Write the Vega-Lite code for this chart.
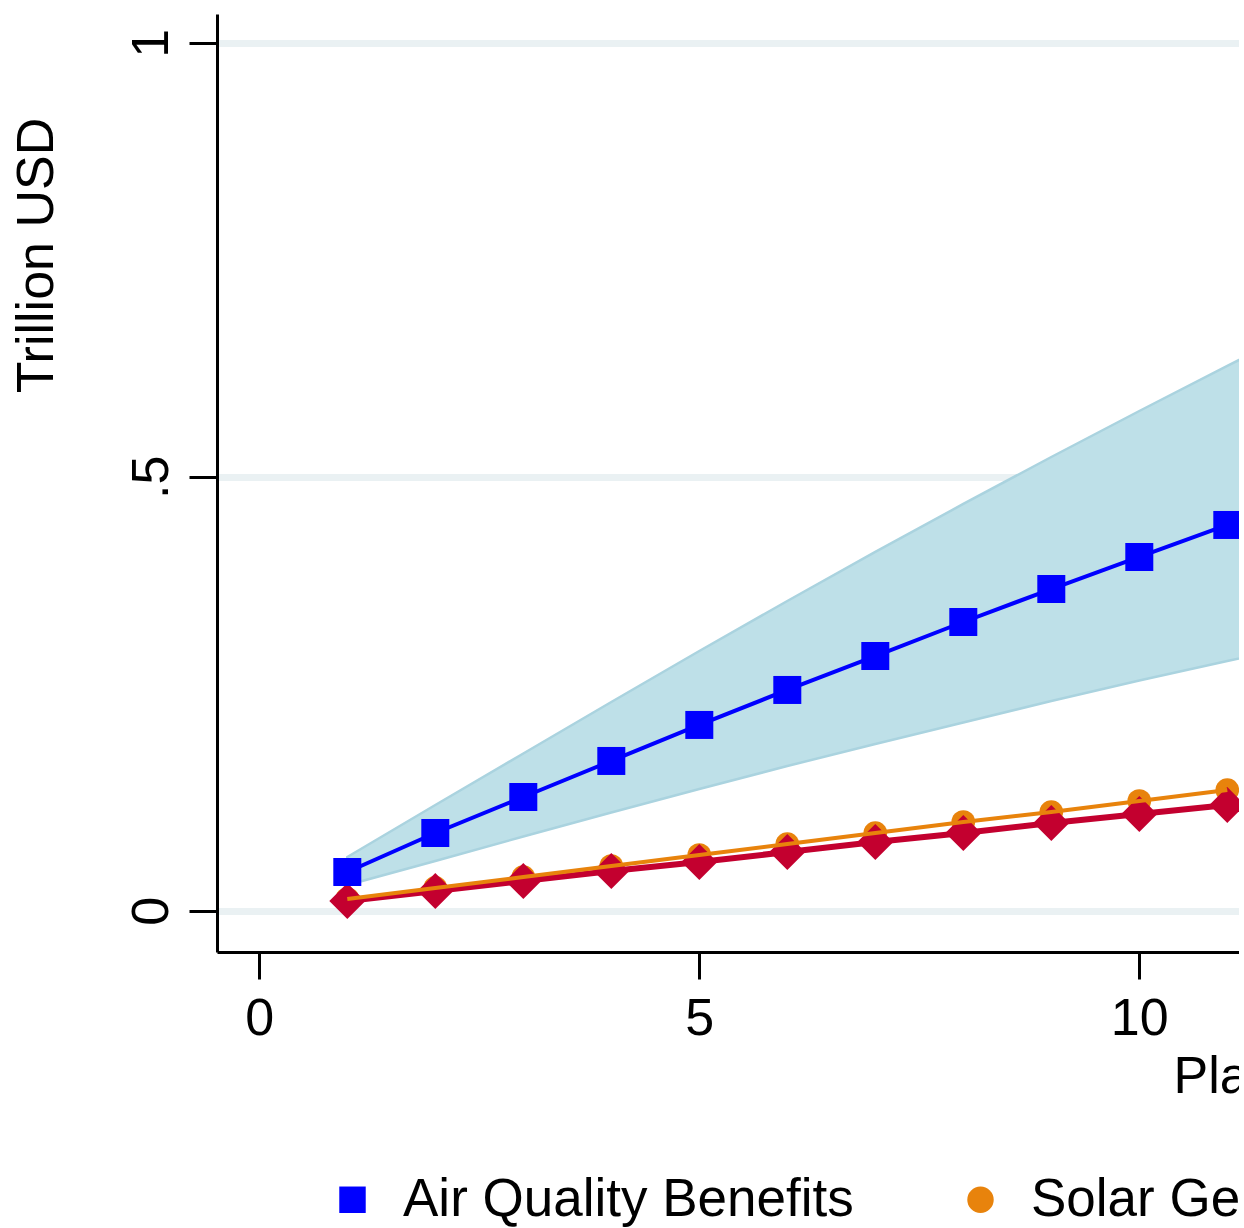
{
  "$schema": "https://vega.github.io/schema/vega-lite/v6.json",
  "width": 1022,
  "height": 938,
  "autosize": {"type": "none"},
  "padding": {"left": 217, "top": 14, "right": 0, "bottom": 276},
  "background": "white",
  "config": {
    "view": {"stroke": null},
    "font": "Liberation Sans",
    "legend": {
      "orient": "none",
      "legendX": 109,
      "legendY": 1159,
      "direction": "horizontal",
      "padding": 0,
      "labelFontSize": 53,
      "labelFont": "Liberation Sans",
      "labelColor": "black",
      "labelOffset": 24,
      "labelLimit": 2000,
      "columnPadding": 100,
      "symbolSize": 700,
      "symbolStrokeWidth": 0
    }
  },
  "datasets": {
    "band": [
      {"x": 1, "lo": 0.0296, "hi": 0.0619},
      {"x": 2, "lo": 0.0573, "hi": 0.1218},
      {"x": 3, "lo": 0.0855, "hi": 0.1811},
      {"x": 4, "lo": 0.1131, "hi": 0.2404},
      {"x": 5, "lo": 0.1402, "hi": 0.2992},
      {"x": 6, "lo": 0.1667, "hi": 0.3568},
      {"x": 7, "lo": 0.1920, "hi": 0.4133},
      {"x": 8, "lo": 0.2168, "hi": 0.4686},
      {"x": 9, "lo": 0.2416, "hi": 0.5227},
      {"x": 10, "lo": 0.2652, "hi": 0.5757},
      {"x": 11, "lo": 0.2877, "hi": 0.6276},
      {"x": 12, "lo": 0.3095, "hi": 0.6794}
    ],
    "pts": [
      {"x": 1, "series": "Solar Generation Costs", "y": 0.0135},
      {"x": 2, "series": "Solar Generation Costs", "y": 0.0262},
      {"x": 3, "series": "Solar Generation Costs", "y": 0.0388},
      {"x": 4, "series": "Solar Generation Costs", "y": 0.0515},
      {"x": 5, "series": "Solar Generation Costs", "y": 0.0642},
      {"x": 6, "series": "Solar Generation Costs", "y": 0.0768},
      {"x": 7, "series": "Solar Generation Costs", "y": 0.0895},
      {"x": 8, "series": "Solar Generation Costs", "y": 0.1022},
      {"x": 9, "series": "Solar Generation Costs", "y": 0.1137},
      {"x": 10, "series": "Solar Generation Costs", "y": 0.1264},
      {"x": 11, "series": "Solar Generation Costs", "y": 0.1390},
      {"x": 1, "series": "Climate Benefits", "y": 0.0112},
      {"x": 2, "series": "Climate Benefits", "y": 0.0227},
      {"x": 3, "series": "Climate Benefits", "y": 0.0342},
      {"x": 4, "series": "Climate Benefits", "y": 0.0457},
      {"x": 5, "series": "Climate Benefits", "y": 0.0561},
      {"x": 6, "series": "Climate Benefits", "y": 0.0676},
      {"x": 7, "series": "Climate Benefits", "y": 0.0791},
      {"x": 8, "series": "Climate Benefits", "y": 0.0895},
      {"x": 9, "series": "Climate Benefits", "y": 0.1010},
      {"x": 10, "series": "Climate Benefits", "y": 0.1114},
      {"x": 11, "series": "Climate Benefits", "y": 0.1218},
      {"x": 1, "series": "Air Quality Benefits", "y": 0.0446},
      {"x": 2, "series": "Air Quality Benefits", "y": 0.0895},
      {"x": 3, "series": "Air Quality Benefits", "y": 0.1310},
      {"x": 4, "series": "Air Quality Benefits", "y": 0.1725},
      {"x": 5, "series": "Air Quality Benefits", "y": 0.2140},
      {"x": 6, "series": "Air Quality Benefits", "y": 0.2543},
      {"x": 7, "series": "Air Quality Benefits", "y": 0.2934},
      {"x": 8, "series": "Air Quality Benefits", "y": 0.3326},
      {"x": 9, "series": "Air Quality Benefits", "y": 0.3706},
      {"x": 10, "series": "Air Quality Benefits", "y": 0.4075},
      {"x": 11, "series": "Air Quality Benefits", "y": 0.4444}
    ]
  },
  "encoding": {
    "x": {
      "field": "x",
      "type": "quantitative",
      "scale": {"domain": [-0.4807, 11.133], "nice": false, "zero": false},
      "axis": {
        "values": [0, 5, 10],
        "labelAngle": 0,
        "labelPadding": 14,
        "labelFontSize": 52,
        "labelFont": "Liberation Sans",
        "labelColor": "black",
        "labelFlush": false,
        "labelOverlap": false,
        "labelBaseline": "top",
        "labelAlign": "center",
        "tickSize": 27,
        "tickWidth": 3,
        "tickColor": "black",
        "domainColor": "black",
        "domainWidth": 3,
        "grid": false,
        "title": "Planned Solar Capacity (GW)",
        "titleFont": "Liberation Sans",
        "titleFontSize": 52,
        "titleFontWeight": "normal",
        "titleColor": "black",
        "titleX": 956,
        "titleY": 140,
        "titleAlign": "left",
        "titleBaseline": "alphabetic"
      }
    },
    "y": {
      "field": "y",
      "type": "quantitative",
      "title": "Trillion USD",
      "scale": {"domain": [-0.0476, 1.0331], "nice": false, "zero": false},
      "axis": {
        "values": [0, 0.5, 1],
        "labelExpr": "datum.value == 0.5 ? '.5' : (datum.value == 1 ? '1' : '0')",
        "labelAngle": -90,
        "labelAlign": "center",
        "labelBaseline": "alphabetic",
        "labelPadding": 22,
        "labelFontSize": 52,
        "labelFont": "Liberation Sans",
        "labelColor": "black",
        "labelOverlap": false,
        "labelFlush": false,
        "tickSize": 28,
        "tickWidth": 3,
        "tickColor": "black",
        "domainColor": "black",
        "domainWidth": 3,
        "grid": true,
        "gridColor": "#EAF1F3",
        "gridWidth": 7,
        "title": "Trillion USD",
        "titleFont": "Liberation Sans",
        "titleFontSize": 52,
        "titleFontWeight": "normal",
        "titleColor": "black",
        "titleAngle": -90,
        "titleX": -165,
        "titleY": 241,
        "titleAlign": "center",
        "titleBaseline": "alphabetic"
      }
    }
  },
  "layer": [
    {
      "data": {"name": "band"},
      "mark": {"type": "area", "fill": "#BEE0E8", "stroke": "#AAD3DF", "strokeWidth": 2.5, "clip": true},
      "encoding": {
        "y": {"field": "hi", "type": "quantitative", "title": "Trillion USD"},
        "y2": {"field": "lo"}
      }
    },
    {
      "data": {"name": "pts"},
      "transform": [{"filter": "datum.series === 'Air Quality Benefits'"}],
      "mark": {"type": "line", "stroke": "#0000FF", "strokeWidth": 4, "clip": true}
    },
    {
      "data": {"name": "pts"},
      "transform": [{"filter": "datum.series === 'Climate Benefits'"}],
      "mark": {"type": "line", "stroke": "#C3002F", "strokeWidth": 6, "clip": true}
    },
    {
      "data": {"name": "pts"},
      "transform": [{"filter": "datum.series === 'Solar Generation Costs'"}],
      "mark": {"type": "point", "filled": true, "opacity": 1, "strokeWidth": 0, "size": 560, "clip": true},
      "encoding": {
        "fill": {
          "field": "series",
          "type": "nominal",
          "title": null,
          "scale": {
            "domain": ["Air Quality Benefits", "Solar Generation Costs", "Climate Benefits"],
            "range": ["#0000FF", "#E8830C", "#C3002F"]
          }
        },
        "shape": {
          "field": "series",
          "type": "nominal",
          "title": null,
          "scale": {
            "domain": ["Air Quality Benefits", "Solar Generation Costs", "Climate Benefits"],
            "range": ["square", "circle", "diamond"]
          }
        }
      }
    },
    {
      "data": {"name": "pts"},
      "transform": [{"filter": "datum.series === 'Climate Benefits'"}],
      "mark": {"type": "point", "filled": true, "opacity": 1, "strokeWidth": 0, "size": 1296, "clip": true},
      "encoding": {
        "fill": {"field": "series", "type": "nominal", "title": null},
        "shape": {"field": "series", "type": "nominal", "title": null}
      }
    },
    {
      "data": {"name": "pts"},
      "transform": [{"filter": "datum.series === 'Air Quality Benefits'"}],
      "mark": {"type": "point", "filled": true, "opacity": 1, "strokeWidth": 0, "size": 784, "clip": true},
      "encoding": {
        "fill": {"field": "series", "type": "nominal", "title": null},
        "shape": {"field": "series", "type": "nominal", "title": null}
      }
    },
    {
      "data": {"name": "pts"},
      "transform": [{"filter": "datum.series === 'Solar Generation Costs'"}],
      "mark": {"type": "line", "stroke": "#E8830C", "strokeWidth": 4, "clip": true}
    }
  ]
}
